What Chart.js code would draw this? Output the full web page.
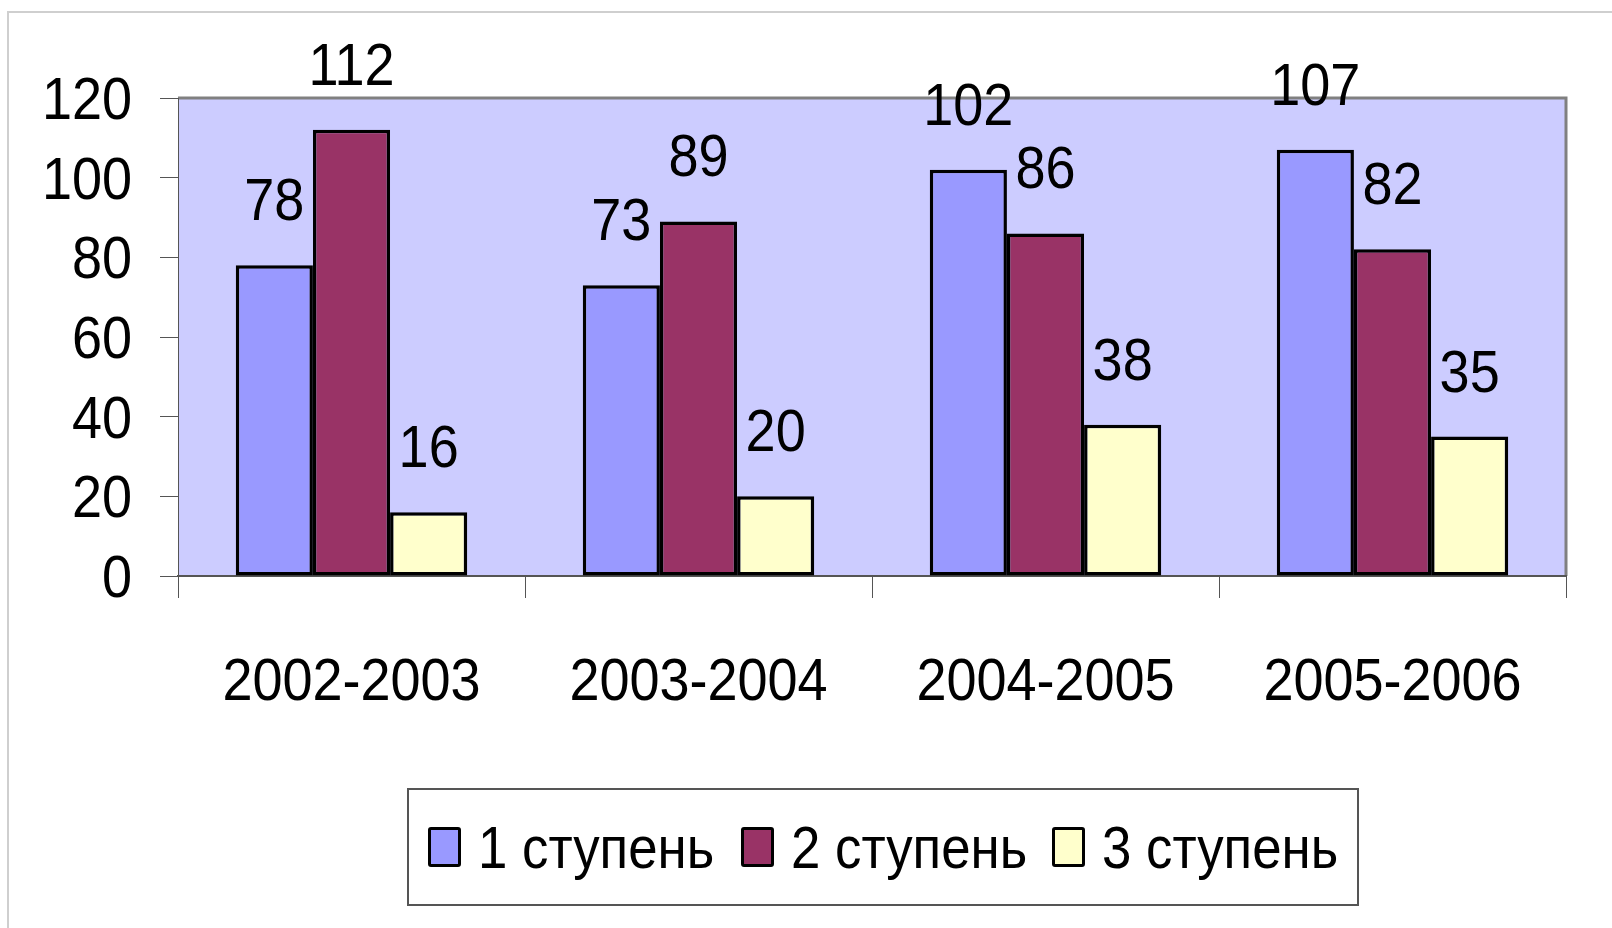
<!DOCTYPE html>
<html>
<head>
<meta charset="utf-8">
<script src="https://cdn.jsdelivr.net/npm/chart.js@4.4.1/dist/chart.umd.min.js"></script>
<style>
    body { margin: 0; background: #fff; overflow: hidden; }
    #wrap { position: relative; width: 1612px; height: 928px; }
    #frame { position: absolute; left: 7px; top: 11px; right: 0; bottom: 0; border-top: 2px solid #cfcfcf; border-left: 2px solid #cfcfcf; }
    #paymentChart { position: absolute; left: 0; top: 0; }
    #legend { position: absolute; left: 407px; top: 788px; width: 948px; height: 114px; border: 2px solid #555;
              font-family: "Liberation Sans", Arial, sans-serif; font-size: 60px; color: #000; }
    #legend .item { position: absolute; top: 0; height: 114px; line-height: 114px; white-space: nowrap; }
    #legend .swatch { position: absolute; top: 37px; width: 27px; height: 34px; border: 3px solid #000; border-radius: 3px; }
    #legend .txt { position: absolute; left: 50px; top: 1px; transform: scaleX(0.88); transform-origin: 0 50%; }
</style>
</head>
<body>
<div id="wrap">
    <div id="frame"></div>
    <canvas id="paymentChart" width="1612" height="928"></canvas>
    <div id="legend"></div>
</div>
<script>
    // chart values
    var years = ['2002-2003', '2003-2004', '2004-2005', '2005-2006'];
    var seriesNames = ['1 ступень', '2 ступень', '3 ступень'];
    var stage1 = [78, 73, 102, 107];
    var stage2 = [112, 89, 86, 82];
    var stage3 = [16, 20, 38, 35];
    var yTicks = [0, 20, 40, 60, 80, 100, 120];

    var colors = ['#9999ff', '#993366', '#ffffcc'];
    var labelFont = '60px "Liberation Sans", Arial, sans-serif';
    var narrow = 0.9;  // squeeze text to look like Arial Narrow

    function narrowText(ctx, text, x, y, align) {
        ctx.save();
        ctx.translate(x, y);
        ctx.scale(narrow, 1);
        ctx.textAlign = align;
        ctx.fillText(text, 0, 0);
        ctx.restore();
    }

    // light lilac plot area with grey top/right border
    var plotBackground = {
        id: 'plotBackground',
        beforeDraw: function(chart) {
            var a = chart.chartArea, ctx = chart.ctx;
            ctx.save();
            ctx.fillStyle = '#ccccff';
            ctx.fillRect(a.left, a.top, a.right - a.left, a.bottom - a.top);
            ctx.strokeStyle = '#808080';
            ctx.lineWidth = 3;
            ctx.beginPath();
            ctx.moveTo(a.left, a.top);
            ctx.lineTo(a.right, a.top);
            ctx.lineTo(a.right, a.bottom);
            ctx.stroke();
            ctx.restore();
        }
    };

    // axis labels and value labels, drawn narrow
    var narrowLabels = {
        id: 'narrowLabels',
        afterDatasetsDraw: function(chart) {
            var ctx = chart.ctx;
            var xs = chart.scales.x, ys = chart.scales.y;
            ctx.save();
            ctx.fillStyle = '#000';
            ctx.font = labelFont;
            ctx.textBaseline = 'alphabetic';

            yTicks.forEach(function(v) {
                narrowText(ctx, String(v), xs.left - 46, ys.getPixelForValue(v) + 21, 'right');
            });
            years.forEach(function(label, i) {
                narrowText(ctx, label, xs.getPixelForTick(i), ys.bottom + 124, 'center');
            });
            chart.data.datasets.forEach(function(ds, i) {
                chart.getDatasetMeta(i).data.forEach(function(bar, j) {
                    narrowText(ctx, String(ds.data[j]), bar.x, bar.y - 45, 'center');
                });
            });
            ctx.restore();
        }
    };

    var ctx = document.getElementById('paymentChart').getContext('2d');
    var chart = new Chart(ctx, {
        type: 'bar',
        data: {
            labels: years,
            datasets: [stage1, stage2, stage3].map(function(values, i) {
                return {
                    label: seriesNames[i],
                    data: values,
                    backgroundColor: colors[i],
                    borderColor: '#000',
                    borderWidth: 3.5,
                    borderSkipped: false,
                    barPercentage: 1,
                    categoryPercentage: 0.667
                };
            })
        },
        options: {
            responsive: false,
            animation: false,
            layout: { padding: { top: 98, right: 46, left: 0, bottom: 0 } },
            plugins: {
                legend: { display: false },
                tooltip: { enabled: false }
            },
            scales: {
                x: {
                    grid: { display: true, drawOnChartArea: false, offset: true, tickLength: 22, color: '#555', lineWidth: 1 },
                    border: { display: true, color: '#555', width: 2 },
                    ticks: { display: false },
                    afterFit: function(scale) { scale.height = 352; }
                },
                y: {
                    min: 0,
                    max: 120,
                    afterBuildTicks: function(scale) {
                        scale.ticks = yTicks.map(function(v) { return { value: v }; });
                    },
                    grid: { display: true, drawOnChartArea: false, tickLength: 18, color: '#555', lineWidth: 1 },
                    border: { display: true, color: '#555', width: 1 },
                    ticks: { display: false },
                    afterFit: function(scale) { scale.width = 178; }
                }
            }
        },
        plugins: [plotBackground, narrowLabels]
    });

    // legend built from the chart datasets
    var legendEl = document.getElementById('legend');
    var itemLeft = [19, 332, 643];
    chart.data.datasets.forEach(function(ds, i) {
        var item = document.createElement('div');
        item.className = 'item';
        item.style.left = itemLeft[i] + 'px';
        item.innerHTML = '<span class="swatch" style="background:' + ds.backgroundColor + '"></span>' +
                         '<span class="txt">' + ds.label + '</span>';
        legendEl.appendChild(item);
    });
</script>
</body>
</html>
